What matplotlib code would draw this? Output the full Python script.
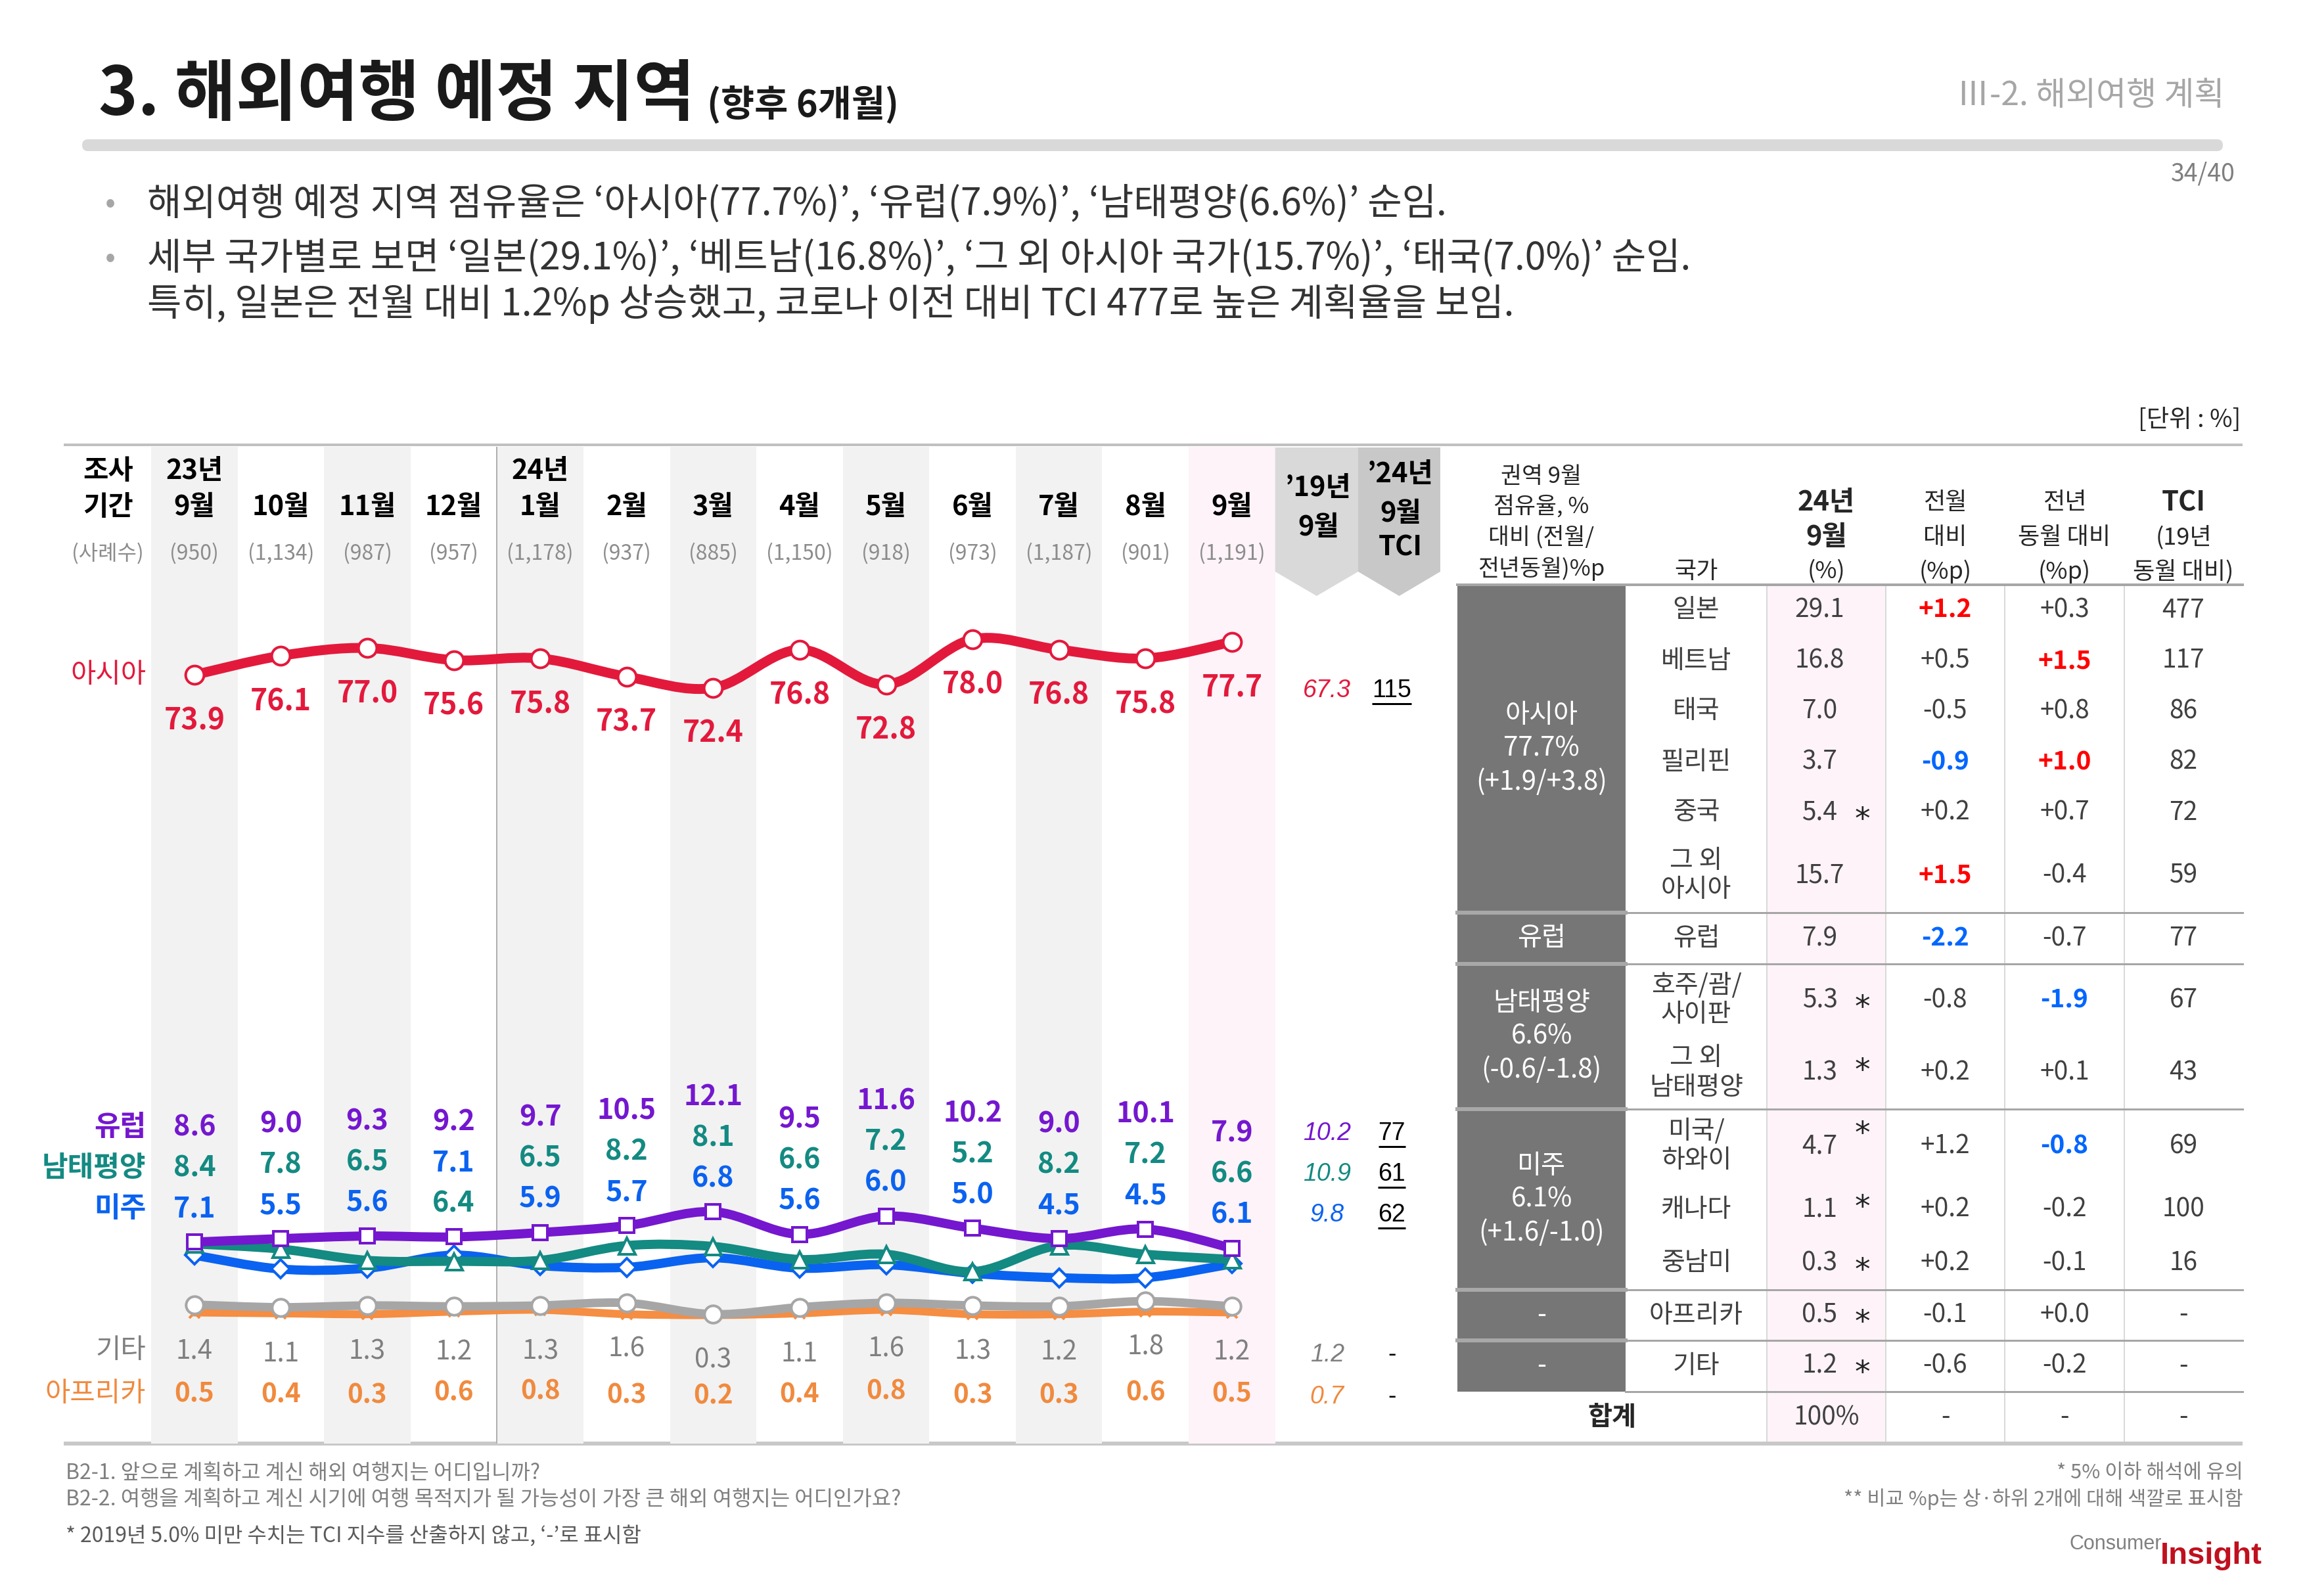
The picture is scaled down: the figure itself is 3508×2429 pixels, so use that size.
import numpy as np
import matplotlib
matplotlib.use('Agg')
import matplotlib.pyplot as plt
import matplotlib.transforms as mtransforms
from matplotlib.path import Path
from matplotlib.patches import PathPatch, Polygon, Rectangle, FancyBboxPatch

plt.rcParams['font.family'] = ['Noto Sans CJK KR', 'DejaVu Sans']

# ---------------- data ----------------
months = ['9월', '10월', '11월', '12월', '1월', '2월', '3월', '4월', '5월', '6월', '7월', '8월', '9월']
year_marks = {0: '23년', 4: '24년'}
samples = ['(950)', '(1,134)', '(987)', '(957)', '(1,178)', '(937)', '(885)',
           '(1,150)', '(918)', '(973)', '(1,187)', '(901)', '(1,191)']

asia = [73.9, 76.1, 77.0, 75.6, 75.8, 73.7, 72.4, 76.8, 72.8, 78.0, 76.8, 75.8, 77.7]
europe = [8.6, 9.0, 9.3, 9.2, 9.7, 10.5, 12.1, 9.5, 11.6, 10.2, 9.0, 10.1, 7.9]
oceania = [8.4, 7.8, 6.5, 6.4, 6.5, 8.2, 8.1, 6.6, 7.2, 5.2, 8.2, 7.2, 6.6]
americas = [7.1, 5.5, 5.6, 7.1, 5.9, 5.7, 6.8, 5.6, 6.0, 5.0, 4.5, 4.5, 6.1]
others = [1.4, 1.1, 1.3, 1.2, 1.3, 1.6, 0.3, 1.1, 1.6, 1.3, 1.2, 1.8, 1.2]
africa = [0.5, 0.4, 0.3, 0.6, 0.8, 0.3, 0.2, 0.4, 0.8, 0.3, 0.3, 0.6, 0.5]

sep2019 = {'asia': 67.3, 'europe': 10.2, 'oceania': 10.9, 'americas': 9.8, 'others': 1.2, 'africa': 0.7}
tci2024 = {'asia': '115', 'europe': '77', 'oceania': '61', 'americas': '62', 'others': '-', 'africa': '-'}

# table
regions = ['아시아\n77.7%\n(+1.9/+3.8)', '유럽', '남태평양\n6.6%\n(-0.6/-1.8)',
           '미주\n6.1%\n(+1.6/-1.0)', '-', '-']
region_sizes = [6, 1, 2, 3, 1, 1]
countries = ['일본', '베트남', '태국', '필리핀', '중국', '그 외\n아시아', '유럽',
             '호주/괌/\n사이판', '그 외\n남태평양', '미국/\n하와이', '캐나다', '중남미',
             '아프리카', '기타']
share = [29.1, 16.8, 7.0, 3.7, 5.4, 15.7, 7.9, 5.3, 1.3, 4.7, 1.1, 0.3, 0.5, 1.2]
low_base = [False, False, False, False, True, False, False, True, True, True, True, True, True, True]
mom = ['+1.2', '+0.5', '-0.5', '-0.9', '+0.2', '+1.5', '-2.2', '-0.8', '+0.2', '+1.2',
       '+0.2', '+0.2', '-0.1', '-0.6']
yoy = ['+0.3', '+1.5', '+0.8', '+1.0', '+0.7', '-0.4', '-0.7', '-1.9', '+0.1', '-0.8',
       '-0.2', '-0.1', '+0.0', '-0.2']
tci = ['477', '117', '86', '82', '72', '59', '77', '67', '43', '69', '100', '16', '-', '-']
mom_mark = ['up', '', '', 'dn', '', 'up', 'dn', '', '', '', '', '', '', '']
yoy_mark = ['', 'up', '', 'up', '', '', '', 'dn', '', 'dn', '', '', '', '']

# ---------------- figure ----------------
W, H, DPI = 3508, 2429, 100
PX = 72 / DPI  # points per pixel

fig = plt.figure(figsize=(W / DPI, H / DPI), dpi=DPI)
cv = fig.add_axes([0, 0, 1, 1])
cv.set_xlim(0, W)
cv.set_ylim(H, 0)
cv.axis('off')

TXT = '#262626'
GRAY = '#8c8c8c'


def txt(x, y, s, size=28, color=TXT, ha='center', va='center', **kw):
    return cv.text(x, y, s, fontsize=size, color=color, ha=ha, va=va, **kw)


# header
title = txt(150, 146, '3. 해외여행 예정 지역', size=73, weight='heavy', ha='left', color='#1a1a1a')
txt(3385, 146, 'Ⅲ-2. 해외여행 계획', size=36, color='#a6a6a6', ha='right')
cv.add_patch(FancyBboxPatch((125, 212), 3258, 18, boxstyle='round,pad=0,rounding_size=9',
                            fc='#d9d9d9', ec='none'))
txt(3402, 265, '34/40', size=27, color='#7f7f7f', ha='right')

bullets = [
    (310, '해외여행 예정 지역 점유율은 ‘아시아(77.7%)’, ‘유럽(7.9%)’, ‘남태평양(6.6%)’ 순임.', True),
    (393, '세부 국가별로 보면 ‘일본(29.1%)’, ‘베트남(16.8%)’, ‘그 외 아시아 국가(15.7%)’, ‘태국(7.0%)’ 순임.', True),
    (463, '특히, 일본은 전월 대비 1.2%p 상승했고, 코로나 이전 대비 TCI 477로 높은 계획율을 보임.', False),
]
for y, s, dot in bullets:
    if dot:
        txt(168, y, '•', size=34, color='#a6a6a6')
    txt(224, y, s, size=41, ha='left', color='#333333')

txt(3410, 640, '[단위 : %]', size=27, ha='right')

# frame lines
cv.plot([97, 3413], [677, 677], color='#c0c0c0', lw=4 * PX, solid_capstyle='butt')
cv.plot([97, 3413], [2197, 2197], color='#c8c8c8', lw=6 * PX, solid_capstyle='butt')

# ---------------- chart ----------------
ax = fig.add_axes([97 / W, 1 - 2197 / H, (2192 - 97) / W, (2197 - 680) / H], facecolor='none')
ax.set_xlim(-1.511, 14.41)
ax.set_ylim(-14.59, 100.16)
ax.axis('off')
tr = mtransforms.blended_transform_factory(ax.transData, cv.transData)

idx = np.arange(len(months))
for i in idx:
    if i == len(months) - 1:
        ax.axvspan(i - 0.5, i + 0.5, color='#fdf3f8', lw=0, zorder=0)
    elif i % 2 == 0:
        ax.axvspan(i - 0.5, i + 0.5, color='#f2f2f2', lw=0, zorder=0)
ax.axvline(3.5, color='#b0b0b0', lw=2 * PX, zorder=0.5)

# '19 / TCI header arrows
for x0, x1, fc in [(12.5, 13.46, '#d9d9d9'), (13.46, 14.41, '#c8c8c8')]:
    xc = (x0 + x1) / 2
    ax.add_patch(Polygon([(x0, 681), (x1, 681), (x1, 870), (xc, 907), (x0, 870)],
                         closed=True, fc=fc, ec='none', transform=tr, zorder=1))

for i, m in enumerate(months):
    if i in year_marks:
        ax.text(i, 717, year_marks[i], transform=tr, fontsize=30, weight='bold', ha='center', va='center')
    ax.text(i, 772, m, transform=tr, fontsize=30, weight='bold', ha='center', va='center')
    ax.text(i, 842, samples[i], transform=tr, fontsize=23, color=GRAY, ha='center', va='center')
ax.text(-1.0, 717, '조사', transform=tr, fontsize=30, weight='bold', ha='center', va='center')
ax.text(-1.0, 772, '기간', transform=tr, fontsize=30, weight='bold', ha='center', va='center')
ax.text(-1.0, 842, '(사례수)', transform=tr, fontsize=23, color=GRAY, ha='center', va='center')
ax.text(13.0, 743, '’19년', transform=tr, fontsize=30, weight='bold', ha='center', va='center', zorder=2)
ax.text(13.0, 803, '9월', transform=tr, fontsize=30, weight='bold', ha='center', va='center', zorder=2)
for yy, s in [(722, '’24년'), (782, '9월'), (833, 'TCI')]:
    ax.text(13.95, yy, s, transform=tr, fontsize=30, weight='bold', ha='center', va='center', zorder=2)


def smooth_path(xs, ys):
    pts = np.column_stack([xs, ys]).astype(float)
    n = len(pts)
    verts, codes = [pts[0]], [Path.MOVETO]
    for i in range(n - 1):
        p0 = pts[i - 1] if i > 0 else pts[i]
        p1, p2 = pts[i], pts[i + 1]
        p3 = pts[i + 2] if i + 2 < n else pts[i + 1]
        verts += [p1 + (p2 - p0) / 6, p2 - (p3 - p1) / 6, p2]
        codes += [Path.CURVE4] * 3
    return Path(verts, codes)


series = [
    # key, name, values, line color, label color, marker, ms, lw(px), bold name
    ('africa', '아프리카', africa, '#f58d42', '#f08a3e', 'x', 12, 12, False),
    ('others', '기타', others, '#a6a6a6', '#7f7f7f', 'o', 19, 13, False),
    ('americas', '미주', americas, '#0a62f0', '#0a62f0', 'D', 14, 14, True),
    ('oceania', '남태평양', oceania, '#138a82', '#138a82', '^', 18, 14, True),
    ('europe', '유럽', europe, '#7417cf', '#7417cf', 's', 16, 14, True),
    ('asia', '아시아', asia, '#e3193c', '#e3193c', 'o', 20, 15, False),
]

for k, (key, name, vals, lc, tc, mk, ms, lw, _) in enumerate(series):
    z = 3 + k
    ax.add_patch(PathPatch(smooth_path(idx, vals), fc='none', ec=lc, lw=lw * PX,
                           capstyle='round', joinstyle='round', zorder=z))
    if mk == 'x':
        ax.plot(idx, vals, ls='none', marker=mk, ms=ms, mec=lc, mew=4 * PX, zorder=z + 0.5)
    else:
        ax.plot(idx, vals, ls='none', marker=mk, ms=ms, mfc='white', mec=lc, mew=4 * PX, zorder=z + 0.5)

# value label offsets (pixels, +down)
single_off = {'asia': 70, 'others': 70, 'africa': 124}
stack_keys = ['europe', 'oceania', 'americas']
lookup = {s[0]: s for s in series}


def put(x, v, dy_px, s, **kw):
    ax.annotate(s, (x, v), xytext=(0, -dy_px * PX), textcoords='offset points',
                ha='center', va='center', zorder=20, **kw)


for key in ['asia', 'others', 'africa']:
    _, name, vals, lc, tc, mk, ms, lw, bold = lookup[key]
    size = 32 if key == 'asia' else 29
    wt = 'bold' if key in ('asia', 'africa') else 'medium'
    for i, v in enumerate(vals):
        put(i, v, single_off[key], f'{v:.1f}', fontsize=size, weight=wt, color=tc)
    name_off = 0 if key == 'asia' else single_off[key]
    ax.annotate(name, (-0.56, vals[0]), xytext=(0, -name_off * PX), textcoords='offset points',
                ha='right', va='center', fontsize=30, color=tc, weight='bold' if bold else 'normal')

# stacked labels for europe / oceania / americas
stack_vals = {k: lookup[k][2] for k in stack_keys}
for i in idx:
    order = sorted(stack_keys, key=lambda k: -stack_vals[k][i])
    top = stack_vals[order[0]][i]
    for r, k in enumerate(order):
        put(i, top, -(175 - 62 * r), f'{stack_vals[k][i]:.1f}', fontsize=31, weight='bold',
            color=lookup[k][4])
        if i == 0:
            ax.annotate(lookup[k][1], (-0.56, top), xytext=(0, (175 - 62 * r) * PX),
                        textcoords='offset points', ha='right', va='center', fontsize=31,
                        color=lookup[k][4], weight='bold')

# '19 and TCI columns, aligned with last-month labels
last = len(months) - 1
tci_texts = []
for key in ['asia', 'others', 'africa'] + stack_keys:
    vals = lookup[key][2]
    if key in stack_keys:
        order = sorted(stack_keys, key=lambda k: -stack_vals[k][last])
        anchor = stack_vals[order[0]][last]
        dy = -(175 - 62 * order.index(key))
    else:
        anchor = vals[last]
        dy = single_off[key] + 4
    ax.annotate(f'{sep2019[key]:.1f}', (13.1, anchor), xytext=(0, -dy * PX), textcoords='offset points',
                ha='center', va='center', fontsize=27, color=lookup[key][4],
                family='Liberation Sans', style='italic', zorder=20)
    t = ax.annotate(tci2024[key], (13.85, anchor), xytext=(0, -dy * PX), textcoords='offset points',
                    ha='center', va='center', fontsize=27, color='black',
                    family='Liberation Sans', zorder=20)
    if tci2024[key] != '-':
        tci_texts.append(t)

# ---------------- table ----------------
col_edges = [2218, 2474, 2689, 2870, 3051, 3233, 3413]
col_mid = [(a + b) / 2 for a, b in zip(col_edges[:-1], col_edges[1:])]
row_h = [77, 77, 77, 77, 77, 114, 78, 110, 111, 112, 82, 81, 77, 78]
tbl_top = 890
row_top = tbl_top + np.concatenate([[0], np.cumsum(row_h)])
tbl_end = row_top[-1]
total_bot = 2197

cv.add_patch(Rectangle((col_edges[2], tbl_top), col_edges[3] - col_edges[2], total_bot - tbl_top,
                       fc='#fdf3f8', ec='none', zorder=0))
for x in col_edges[2:6]:
    cv.plot([x, x], [tbl_top, total_bot], color='#d9d9d9', lw=2 * PX, zorder=1)

# header
hdr_y = [765, 818, 870]
txt(col_mid[0], 796, '권역 9월\n점유율, %\n대비 (전월/\n전년동월)%p', size=25, linespacing=1.4)
txt(col_mid[1], 870, '국가', size=26)
txt(col_mid[2], 765, '24년', size=30, weight='bold')
txt(col_mid[2], 818, '9월', size=30, weight='bold')
txt(col_mid[2], 870, '(%)', size=26)
for c, lines in [(3, ['전월', '대비', '(%p)']), (4, ['전년', '동월 대비', '(%p)']),
                 (5, ['TCI', '(19년', '동월 대비)'])]:
    for j, s in enumerate(lines):
        bold = (c == 5 and j == 0)
        txt(col_mid[c], hdr_y[j], s, size=30 if bold else 26, weight='bold' if bold else 'normal')
cv.plot([col_edges[0], col_edges[-1]], [tbl_top, tbl_top], color='#a6a6a6', lw=4 * PX, zorder=3)

# region blocks
r0 = 0
for g, (reg, n) in enumerate(zip(regions, region_sizes)):
    y0, y1 = row_top[r0], row_top[r0 + n]
    cv.add_patch(Rectangle((col_edges[0], y0), col_edges[1] - col_edges[0], y1 - y0,
                           fc='#767676', ec='none', zorder=1))
    txt(col_mid[0], (y0 + y1) / 2, reg, size=29, color='white', linespacing=1.3, zorder=2)
    if g > 0:
        cv.plot([col_edges[0], col_edges[1]], [y0, y0], color='#a8a8a8', lw=6 * PX, zorder=2)
    cv.plot([col_edges[1], col_edges[-1]], [y1, y1], color='#a6a6a6', lw=3 * PX, zorder=3)
    r0 += n

mark_color = {'up': '#ff0000', 'dn': '#0066ff'}
star_dy = {8: -14, 9: -29, 10: -14}
for r in range(len(countries)):
    yc = (row_top[r] + row_top[r + 1]) / 2
    txt(col_mid[1], yc, countries[r], size=28, color='#404040', linespacing=1.15)
    txt(col_mid[2] - 10, yc, f'{share[r]:.1f}', size=28, color='#404040')
    if low_base[r]:
        txt(2834, yc + 12 + star_dy.get(r, 0), '*', size=34, color='#222222', family='DejaVu Sans')
    for c, vals, marks in [(3, mom, mom_mark), (4, yoy, yoy_mark)]:
        mk = marks[r]
        txt(col_mid[c], yc, vals[r], size=28, color=mark_color.get(mk, '#404040'),
            weight='bold' if mk else 'normal')
    txt(col_mid[5], yc, tci[r], size=28, color='#404040')

# total row
yc = (tbl_end + total_bot) / 2
txt((col_edges[0] + col_edges[2]) / 2, yc, '합계', size=29, weight='bold')
txt(col_mid[2], yc, '100%', size=28, color='#404040')
for c in (3, 4, 5):
    txt(col_mid[c], yc, '-', size=28, color='#404040')

# ---------------- footer ----------------
txt(100, 2242, 'B2-1. 앞으로 계획하고 계신 해외 여행지는 어디입니까?', size=23, color='#7f7f7f', ha='left')
txt(100, 2282, 'B2-2. 여행을 계획하고 계신 시기에 여행 목적지가 될 가능성이 가장 큰 해외 여행지는 어디인가요?',
    size=23, color='#7f7f7f', ha='left')
txt(100, 2338, '* 2019년 5.0% 미만 수치는 TCI 지수를 산출하지 않고, ‘-’로 표시함', size=23, color='#595959', ha='left')
txt(3414, 2242, '* 5% 이하 해석에 유의', size=22, color='#7f7f7f', ha='right')
txt(3414, 2282, '** 비교 %p는 상·하위 2개에 대해 색깔로 표시함', size=22, color='#7f7f7f', ha='right')
txt(3290, 2350, 'Consumer', size=22, color='#808080', ha='right', family='Liberation Sans')
txt(3288, 2368, 'Insight', size=34, color='#c0101e', ha='left', weight='bold', family='Liberation Sans')

# ---------------- subtitle & underlines (need text extents) ----------------
fig.canvas.draw()
rend = fig.canvas.get_renderer()
inv = cv.transData.inverted()
bb = title.get_window_extent(rend)
(x0, _), (x1, _) = inv.transform([[bb.x0, bb.y0], [bb.x1, bb.y1]])
txt(x1 + 18, 160, '(향후 6개월)', size=40, weight='heavy', ha='left', color='#1a1a1a')
for t in tci_texts:
    bb = t.get_window_extent(rend)
    (a, yb), (b, _) = inv.transform([[bb.x0, bb.y0], [bb.x1, bb.y1]])
    cv.plot([a, b], [yb + 2, yb + 2], color='black', lw=3 * PX, solid_capstyle='butt', zorder=30)

fig.savefig('out.png', dpi=DPI)
